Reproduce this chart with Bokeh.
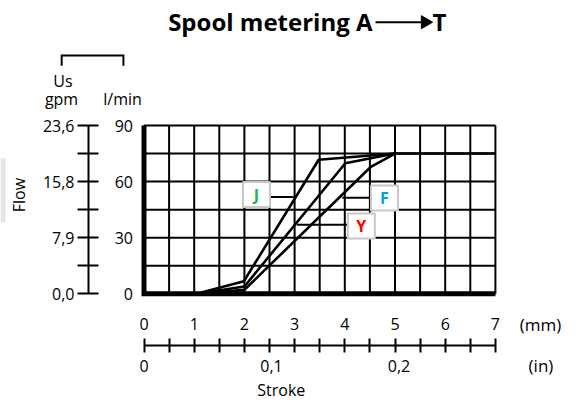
from bokeh.plotting import figure
from bokeh.models import Range1d, LinearAxis, FixedTicker, ColumnDataSource
from bokeh.core.properties import value
from bokeh.embed import file_html
from bokeh.resources import INLINE

FONT = "Open Sans"

# ---------------- data ----------------
stroke_j = [1.05, 1.99, 3.48, 5.0, 7.0]
flow_j = [0.0, 6.7, 71.7, 75.0, 75.0]
stroke_y = [1.05, 2.0, 4.01, 5.0]
flow_y = [0.0, 3.9, 69.8, 75.0]
stroke_f = [1.05, 2.0, 4.51, 5.0]
flow_f = [0.0, 2.1, 67.7, 75.0]

curve_names = ["J", "F", "Y"]
curve_colors = ["#22b14c", "#00a2e8", "#ff0000"]
box_x = [2.24, 4.79, 4.33]
box_y = [53.1, 51.2, 36.3]
leader_x0 = [2.52, 3.95, 3.05]
leader_x1 = [2.98, 4.55, 4.06]
leader_y = [51.7, 51.3, 36.9]

stroke_grid = [0, 0.5, 1, 1.5, 2, 2.5, 3, 3.5, 4, 4.5, 5, 5.5, 6, 6.5, 7]
flow_grid = [0, 15, 30, 45, 60, 75, 90]
mm_ticks = [0, 1, 2, 3, 4, 5, 6, 7]
in_ticks = [0, 2.54, 5.08]
in_labels = ["0", "0,1", "0,2"]
lmin_ticks = [0, 30, 60, 90]
lmin_minor = [15, 45, 75]
gpm_labels = ["0,0", "7,9", "15,8", "23,6"]

# ---------------- figure (frame covers the whole canvas) ----------------
W, H = 580, 402
PX0, PXS = 143.5, 50.2     # pixel of 0 mm, pixels per mm
PY0, PYS = 293.3, 1.87     # pixel of 0 l/min, pixels per l/min
p = figure(width=W, height=H,
           x_range=Range1d(-PX0 / PXS, (W - PX0) / PXS),
           y_range=Range1d((PY0 - H) / PYS, PY0 / PYS),
           x_axis_type=None, y_axis_type=None,
           output_backend="svg", toolbar_location=None,
           min_border=0, min_border_left=0, min_border_right=0,
           min_border_top=0, min_border_bottom=0)
p.outline_line_color = None
p.background_fill_color = "white"
p.border_fill_color = "white"

# cut-off grey strip at the left edge of the original picture
p.quad(left=[-PX0 / PXS], right=[(5 - PX0) / PXS], top=[72.3], bottom=[38.1],
       fill_color="#e4e4e4", line_color=None)

# grid
p.segment(x0=stroke_grid, y0=[flow_grid[0]] * len(stroke_grid),
          x1=stroke_grid, y1=[flow_grid[-1]] * len(stroke_grid),
          line_color="black", line_width=2)
p.segment(x0=[stroke_grid[0]] * len(flow_grid), y0=flow_grid,
          x1=[stroke_grid[-1]] * len(flow_grid), y1=flow_grid,
          line_color="black", line_width=2)
p.line(x=[stroke_grid[0], stroke_grid[0], stroke_grid[-1]],
       y=[flow_grid[-1], flow_grid[0], flow_grid[0]],
       line_color="black", line_width=5, line_join="miter")

# curves
for sx, fy in [(stroke_j, flow_j), (stroke_y, flow_y), (stroke_f, flow_f)]:
    p.line(sx, fy, line_color="black", line_width=2.6)

# leaders and label boxes
p.segment(x0=leader_x0, y0=leader_y, x1=leader_x1, y1=leader_y,
          line_color="black", line_width=2)
src = ColumnDataSource(dict(x=box_x, y=box_y, t=curve_names, c=curve_colors))
p.rect(x="x", y="y", width=27, height=25, width_units="screen", height_units="screen",
       source=src, fill_color="white", line_color="#c8c8c8", line_width=2)
p.text(x="x", y="y", text="t", text_color="c", source=src,
       text_font=value(FONT), text_font_style="bold", text_font_size="16px",
       text_align="center", text_baseline="middle")

# ---------------- axes (fixed locations) ----------------
def style(ax, size="16px"):
    ax.major_label_text_font = FONT
    ax.major_label_text_font_size = size
    ax.major_label_text_color = "black"

def bare(ax):
    ax.axis_line_color = None
    ax.major_tick_line_color = None
    ax.minor_tick_line_color = None
    ax.major_tick_in = 0
    ax.major_tick_out = 0
    ax.minor_tick_in = 0
    ax.minor_tick_out = 0

# l/min labels
ax_l = LinearAxis(ticker=FixedTicker(ticks=lmin_ticks), fixed_location=0)
style(ax_l)
bare(ax_l)
ax_l.major_label_standoff = 11
p.add_layout(ax_l, "left")

# gpm ladder
ax_g = LinearAxis(ticker=FixedTicker(ticks=lmin_ticks, minor_ticks=lmin_minor),
                  major_label_overrides=dict(zip(lmin_ticks, gpm_labels)),
                  fixed_location=(88 - PX0) / PXS)
style(ax_g)
ax_g.bounds = (0, 90)
ax_g.axis_line_color = "black"
ax_g.axis_line_width = 2
ax_g.major_tick_line_color = "black"
ax_g.major_tick_line_width = 2
ax_g.minor_tick_line_color = "black"
ax_g.minor_tick_line_width = 2
ax_g.major_tick_in = 10
ax_g.major_tick_out = 11
ax_g.minor_tick_in = 10
ax_g.minor_tick_out = 11
ax_g.major_label_standoff = 3
p.add_layout(ax_g, "left")

# mm labels
ax_mm = LinearAxis(ticker=FixedTicker(ticks=mm_ticks), fixed_location=0)
style(ax_mm)
bare(ax_mm)
ax_mm.major_label_standoff = 24
p.add_layout(ax_mm, "below")

# stroke ladder with inch labels
ax_in = LinearAxis(ticker=FixedTicker(ticks=in_ticks, minor_ticks=stroke_grid),
                   major_label_overrides=dict(zip(in_ticks, in_labels)),
                   fixed_location=(PY0 - 345) / PYS)
style(ax_in)
ax_in.bounds = (0, 7)
ax_in.axis_line_color = "black"
ax_in.axis_line_width = 2
ax_in.major_tick_in = 0
ax_in.major_tick_out = 0
ax_in.major_tick_line_color = None
ax_in.minor_tick_line_color = "black"
ax_in.minor_tick_line_width = 2
ax_in.minor_tick_in = 7
ax_in.minor_tick_out = 7
ax_in.major_label_standoff = 7
p.add_layout(ax_in, "below")

# ---------------- texts (glyphs, middle baseline) ----------------
def txt(x, y, text, size="16px", align="center", bold=False, angle=0.0):
    p.text(x=[x], y=[y], text=[text], text_font=value(FONT), text_font_size=size,
           text_align=align, text_baseline="middle", angle=angle,
           text_font_style="bold" if bold else "normal", text_color="black")

txt(-1.614, 113.8, "Us")
txt(-1.643, 104.4, "gpm")
txt(-0.428, 104.4, "l/min")
txt(-2.484, 52.8, "Flow", angle=1.5708)
txt(7.898, -16.6, "(mm)", size="17px")
txt(7.908, -38.6, "(in)", size="17px")
txt(2.735, -51.3, "Stroke")
txt(4.552, 145.8, "Spool metering A", size="24px", align="right", bold=True)
txt(5.747, 145.8, "T", size="24px", align="left", bold=True)

# bracket above the flow scales
p.line(x=[-1.64, -1.64, -0.41, -0.41], y=[122.0, 127.4, 127.4, 122.0],
       line_color="black", line_width=2, line_join="miter")
# title arrow
p.segment(x0=[4.612], y0=[145.24], x1=[5.52], y1=[145.24], line_color="black", line_width=2)
p.scatter(x=[5.60], y=[145.24], marker="triangle", angle=-1.5708, size=13,
          fill_color="black", line_color="black")

open("out.html", "w").write(file_html(p, INLINE))
